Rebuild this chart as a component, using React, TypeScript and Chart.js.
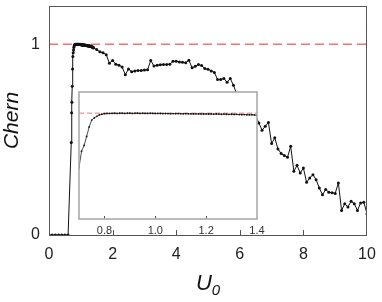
import React, { useEffect, useRef } from "react";
import { Chart, registerables } from "chart.js";

Chart.register(...registerables);

// ---- data ----
const insetU = [
  0.70, 0.71, 0.72, 0.73, 0.74, 0.75, 0.76, 0.77, 0.78, 0.79,
  0.80, 0.81, 0.82, 0.83, 0.84, 0.85, 0.86, 0.87, 0.88, 0.89,
  0.90, 0.91, 0.92, 0.93, 0.94, 0.95, 0.96, 0.97, 0.98, 0.99,
  1.00, 1.01, 1.02, 1.03, 1.04, 1.05, 1.06, 1.07, 1.08, 1.09,
  1.10, 1.11, 1.12, 1.13, 1.14, 1.15, 1.16, 1.17, 1.18, 1.19,
  1.20, 1.21, 1.22, 1.23, 1.24, 1.25, 1.26, 1.27, 1.28, 1.29,
  1.30, 1.31, 1.32, 1.33, 1.34, 1.35, 1.36, 1.37, 1.38, 1.39,
  1.40,
];
const insetChern = [
  0.485, 0.640, 0.695, 0.780, 0.870, 0.935, 0.955, 0.970, 0.983, 0.990,
  0.995, 0.997, 0.998, 0.998, 0.999, 0.998, 0.999, 0.999, 0.998, 0.999,
  0.999, 0.998, 0.999, 0.999, 0.998, 0.999, 0.998, 0.998, 0.999, 0.998,
  0.997, 0.998, 0.997, 0.996, 0.997, 0.996, 0.995, 0.996, 0.995, 0.996,
  0.995, 0.994, 0.995, 0.994, 0.994, 0.993, 0.994, 0.993, 0.993, 0.992,
  0.993, 0.992, 0.992, 0.991, 0.992, 0.991, 0.990, 0.991, 0.990, 0.989,
  0.990, 0.988, 0.989, 0.987, 0.986, 0.987, 0.985, 0.984, 0.985, 0.983,
  0.980,
];

const lowU = [0.0, 0.1, 0.2, 0.3, 0.4, 0.5, 0.6];
const lowChern = [0, 0, 0, 0, 0, 0, 0];

const highU = [
  1.5, 1.6, 1.7, 1.8, 1.9, 2.0, 2.1, 2.2, 2.3, 2.4,
  2.5, 2.6, 2.7, 2.8, 2.9, 3.0, 3.1, 3.2, 3.3, 3.4,
  3.5, 3.6, 3.7, 3.8, 3.9, 4.0, 4.1, 4.2, 4.3, 4.4,
  4.5, 4.6, 4.7, 4.8, 4.9, 5.0, 5.1, 5.2, 5.3, 5.4,
  5.5, 5.6, 5.7, 5.8, 5.9, 6.0, 6.1, 6.2, 6.3, 6.4,
  6.5, 6.6, 6.7, 6.8, 6.9, 7.0, 7.1, 7.2, 7.3, 7.4,
  7.5, 7.6, 7.7, 7.8, 7.9, 8.0, 8.1, 8.2, 8.3, 8.4,
  8.5, 8.6, 8.7, 8.8, 8.9, 9.0, 9.1, 9.2, 9.3, 9.4,
  9.5, 9.6, 9.7, 9.8, 9.9, 10.0,
];
const highChern = [
  0.972, 0.960, 0.955, 0.945, 0.900, 0.915, 0.895, 0.890, 0.880, 0.840,
  0.870, 0.855, 0.860, 0.862, 0.862, 0.864, 0.866, 0.915, 0.885, 0.890,
  0.892, 0.893, 0.894, 0.895, 0.910, 0.910, 0.907, 0.905, 0.902, 0.916,
  0.876, 0.884, 0.893, 0.888, 0.872, 0.868, 0.860, 0.852, 0.815, 0.815,
  0.820, 0.800, 0.820, 0.785, 0.740, 0.720, 0.700, 0.680, 0.660, 0.645,
  0.625, 0.587, 0.549, 0.570, 0.590, 0.479, 0.509, 0.451, 0.427, 0.416,
  0.407, 0.465, 0.334, 0.365, 0.325, 0.351, 0.276, 0.299, 0.316, 0.290,
  0.246, 0.211, 0.238, 0.224, 0.222, 0.218, 0.273, 0.129, 0.164, 0.147,
  0.177, 0.164, 0.129, 0.168, 0.171, 0.112,
];

const mainXTicks = [0, 2, 4, 6, 8, 10];
const mainYTicks = [0, 1];
const insetXTicks = [0.8, 1.0, 1.2, 1.4];
const referenceLevel = 1;

const FONT = "'Liberation Sans', Arial, Helvetica, sans-serif";

function toPoints(xs: number[], ys: number[]) {
  return xs.map((x, i) => ({ x, y: ys[i] }));
}

export default function App() {
  const mainRef = useRef<HTMLCanvasElement>(null);
  const insetRef = useRef<HTMLCanvasElement>(null);

  useEffect(() => {
    const mainPts = [
      ...toPoints(lowU, lowChern),
      ...toPoints(insetU, insetChern),
      ...toPoints(highU, highChern),
    ];

    const mainDecor = {
      id: "mainDecor",
      afterDraw(chart: any) {
        const { ctx, chartArea: a, scales } = chart;
        ctx.save();
        ctx.strokeStyle = "#555";
        ctx.lineWidth = 1;
        ctx.strokeRect(a.left + 0.5, a.top + 0.5, a.right - a.left - 1, a.bottom - a.top);
        // inward tick marks on bottom
        ctx.beginPath();
        for (const v of mainXTicks) {
          if (v === 0 || v === 10) continue;
          const px = Math.round(scales.x.getPixelForValue(v)) + 0.5;
          ctx.moveTo(px, a.bottom);
          ctx.lineTo(px, a.bottom - 5);
        }
        ctx.stroke();
        // axis titles
        ctx.fillStyle = "#111";
        ctx.font = `italic 21px ${FONT}`;
        ctx.textAlign = "center";
        ctx.textBaseline = "alphabetic";
        ctx.save();
        ctx.translate(18, (a.top + a.bottom) / 2);
        ctx.rotate(-Math.PI / 2);
        ctx.fillText("Chern", 0, 0);
        ctx.restore();
        const cx = (a.left + a.right) / 2;
        ctx.font = `italic 22px ${FONT}`;
        ctx.textAlign = "left";
        const uw = ctx.measureText("U").width;
        ctx.font = `italic 15px ${FONT}`;
        const zw = ctx.measureText("0").width;
        const start = cx - (uw + zw) / 2;
        ctx.font = `italic 22px ${FONT}`;
        ctx.fillText("U", start, 290);
        ctx.font = `italic 15px ${FONT}`;
        ctx.fillText("0", start + uw, 295);
        ctx.restore();
      },
    };

    const main = new Chart(mainRef.current!, {
      type: "line",
      data: {
        datasets: [
          {
            data: [
              { x: 0, y: referenceLevel },
              { x: 10, y: referenceLevel },
            ],
            borderColor: "rgba(238,100,100,0.9)",
            borderWidth: 1.5,
            borderDash: [9, 5],
            pointRadius: 0,
            order: 1,
          },
          {
            data: mainPts,
            borderColor: "#111",
            borderWidth: 1,
            pointRadius: 1.5,
            pointBackgroundColor: "#111",
            pointBorderWidth: 0,
            order: 0,
          },
        ],
      },
      options: {
        animation: false,
        responsive: false,
        maintainAspectRatio: false,
        layout: { padding: { left: 0, right: 15, top: 6, bottom: 0 } },
        plugins: { legend: { display: false }, tooltip: { enabled: false } },
        scales: {
          x: {
            type: "linear",
            min: 0,
            max: 10,
            grid: { display: false, drawTicks: false },
            border: { display: false },
            afterBuildTicks: (s: any) => {
              s.ticks = mainXTicks.map((v) => ({ value: v }));
            },
            afterFit: (s: any) => {
              s.height = 67;
              s.paddingLeft = 0;
              s.paddingRight = 0;
            },
            ticks: {
              padding: 10,
              maxRotation: 0,
              color: "#222",
              font: { family: FONT, size: 16 },
              callback: (v: any) => String(v),
            },
          },
          y: {
            type: "linear",
            min: 0,
            max: 1.2,
            grid: { display: false, drawTicks: false },
            border: { display: false },
            afterBuildTicks: (s: any) => {
              s.ticks = mainYTicks.map((v) => ({ value: v }));
            },
            afterFit: (s: any) => {
              s.width = 49;
              s.paddingTop = 0;
              s.paddingBottom = 0;
            },
            ticks: {
              padding: 9,
              color: "#222",
              font: { family: FONT, size: 16 },
              callback: (v: any) => String(v),
            },
          },
        },
      },
      plugins: [mainDecor],
    });

    const insetDecor = {
      id: "insetDecor",
      beforeDraw(chart: any) {
        const { ctx, chartArea: a } = chart;
        ctx.save();
        ctx.fillStyle = "#fff";
        ctx.fillRect(a.left, a.top, a.right - a.left, a.bottom - a.top);
        ctx.restore();
      },
      afterDraw(chart: any) {
        const { ctx, chartArea: a, scales } = chart;
        ctx.save();
        ctx.strokeStyle = "#555";
        ctx.lineWidth = 1;
        ctx.beginPath();
        for (const v of insetXTicks) {
          if (v >= 1.4) continue;
          const px = Math.round(scales.x.getPixelForValue(v)) + 0.5;
          ctx.moveTo(px, a.bottom);
          ctx.lineTo(px, a.bottom - 3);
        }
        ctx.stroke();
        ctx.strokeStyle = "#aaa";
        ctx.lineWidth = 1.6;
        ctx.strokeRect(a.left, a.top, a.right - a.left, a.bottom - a.top);
        ctx.restore();
      },
    };

    const inset = new Chart(insetRef.current!, {
      type: "line",
      data: {
        datasets: [
          {
            data: [
              { x: 0.7, y: referenceLevel },
              { x: 1.4, y: referenceLevel },
            ],
            borderColor: "rgba(238,100,100,0.9)",
            borderWidth: 1,
            borderDash: [5, 3],
            pointRadius: 0,
            order: 1,
          },
          {
            data: toPoints(insetU, insetChern),
            borderColor: "#222",
            borderWidth: 0.8,
            pointRadius: 0.9,
            pointBackgroundColor: "#111",
            pointBorderWidth: 0,
            order: 0,
          },
        ],
      },
      options: {
        animation: false,
        responsive: false,
        maintainAspectRatio: false,
        layout: { padding: { left: 9, right: 13, top: 7, bottom: 0 } },
        plugins: { legend: { display: false }, tooltip: { enabled: false } },
        scales: {
          x: {
            type: "linear",
            min: 0.7,
            max: 1.4,
            grid: { display: false, drawTicks: false },
            border: { display: false },
            afterBuildTicks: (s: any) => {
              s.ticks = insetXTicks.map((v) => ({ value: v }));
            },
            afterFit: (s: any) => {
              s.height = 26;
              s.paddingLeft = 0;
              s.paddingRight = 0;
            },
            ticks: {
              padding: 5,
              maxRotation: 0,
              autoSkip: false,
              color: "#333",
              font: { family: FONT, size: 11 },
              callback: (v: any) => Number(v).toFixed(1),
            },
          },
          y: {
            type: "linear",
            min: 0,
            max: 1.2,
            display: false,
          },
        },
      },
      plugins: [insetDecor],
    });

    return () => {
      main.destroy();
      inset.destroy();
    };
  }, []);

  return (
    <div style={{ position: "absolute", left: 0, top: 0, width: 382, height: 302, background: "#fff" }}>
      <canvas ref={mainRef} width={382} height={302} style={{ position: "absolute", left: 0, top: 0, width: 382, height: 302 }} />
      <canvas ref={insetRef} width={200} height={160} style={{ position: "absolute", left: 70, top: 85, width: 200, height: 160 }} />
    </div>
  );
}
